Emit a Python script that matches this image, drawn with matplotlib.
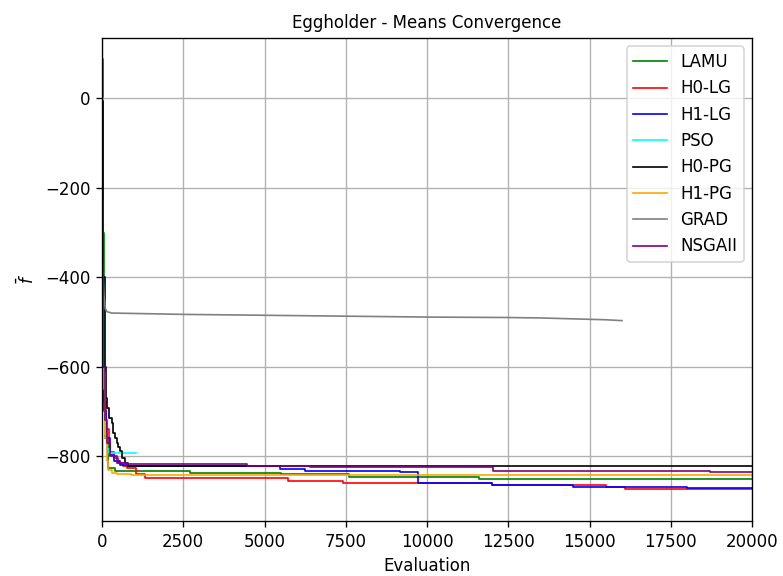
import matplotlib.pyplot as plt

# Mean best objective value against evaluation count
names = ["LAMU", "H0-LG", "H1-LG", "PSO", "H0-PG", "H1-PG", "GRAD", "NSGAII"]
colours = ["green", "red", "blue", "cyan", "black", "orange", "grey", "purple"]

lamu_x = [0, 30, 60, 100, 194, 400, 2700, 5500, 7600, 11600, 20000]
lamu_y = [88, -300, -600, -760, -826, -833, -837, -841, -846, -850, -850]

h0lg_x = [0, 60, 120, 200, 246, 369, 500, 650, 760, 1036, 1320, 5730, 7400,
          12000, 15500, 16100, 20000]
h0lg_y = [-615, -680, -740, -770, -790, -804, -815, -822, -826, -841, -849, -855,
          -861, -865, -870, -874, -874]

h1lg_x = [0, 60, 120, 246, 369, 554, 800, 5480, 6250, 9170, 9720, 12000, 14490,
          17990, 20000]
h1lg_y = [-600, -700, -760, -797, -811, -819, -823, -829, -834, -836, -861, -865,
          -869, -871, -871]

pso_x = [0, 30, 60, 100, 160, 225, 1046]
pso_y = [0, -400, -650, -750, -785, -793, -793]

h0pg_x = [0, 40, 80, 120, 164, 225, 298, 348, 400, 452, 500, 554, 625, 708, 810, 20000]
h0pg_y = [-5, -400, -600, -670, -692, -714, -725, -748, -760, -770, -780, -789,
          -804, -815, -821, -822]

h1pg_x = [0, 100, 150, 194, 298, 452, 900, 20000]
h1pg_y = [-615, -760, -810, -830, -837, -841, -843, -844]

grad_x = [0, 60, 100, 150, 300, 2500, 5000, 7500, 10000, 12500, 13500, 14500,
          15500, 16000]
grad_y = [-350, -440, -470, -477, -480, -483, -485, -487, -489, -490, -491, -493,
          -495, -497]

nsga_x = [0, 40, 80, 150, 246, 452, 760, 4450, 6400, 12030, 18710, 20000]
nsga_y = [-228, -600, -720, -770, -800, -815, -818, -821, -824, -834, -836, -836]

xs = [lamu_x, h0lg_x, h1lg_x, pso_x, h0pg_x, h1pg_x, grad_x, nsga_x]
ys = [lamu_y, h0lg_y, h1lg_y, pso_y, h0pg_y, h1pg_y, grad_y, nsga_y]

fig = plt.figure(figsize=(6.525, 4.8), dpi=120)
ax = fig.add_axes([0.1303, 0.0955, 0.8301, 0.8385])

for name, c, x, y in zip(names, colours, xs, ys):
    # gradient descent decays smoothly, the rest only improve in steps
    ds = "default" if name == "GRAD" else "steps-post"
    ax.plot(x, y, color=c, linewidth=1, drawstyle=ds, label=name)

ax.set_xlim(0, 20000)
ax.set_ylim(-945, 135)
ax.grid(True)
ax.set_xlabel("Evaluation")
ax.set_ylabel("$\\bar{f}$")
ax.set_title("Eggholder - Means Convergence", fontsize=10)
ax.legend(loc="upper right")

fig.savefig("out.png", dpi=120)
